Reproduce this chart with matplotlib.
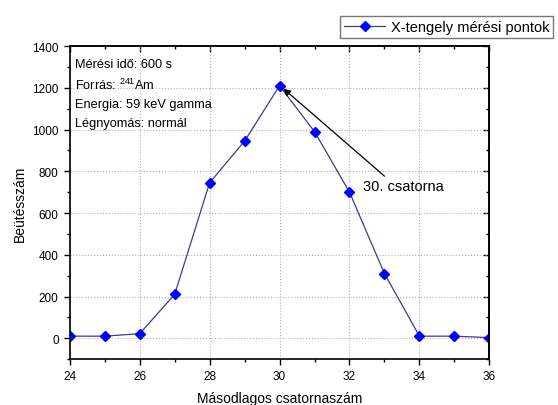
import matplotlib
matplotlib.use('Agg')
import matplotlib.pyplot as plt
from matplotlib.ticker import MultipleLocator

plt.rcParams['font.family'] = ['Liberation Sans', 'DejaVu Sans']
plt.rcParams['mathtext.fontset'] = 'custom'
plt.rcParams['mathtext.rm'] = 'Liberation Sans'

# measured counts per secondary channel
channels = [24, 25, 26, 27, 28, 29, 30, 31, 32, 33, 34, 35, 36]
counts = [10, 10, 22, 210, 745, 945, 1210, 990, 700, 310, 10, 10, 3]

info_lines = ['Mérési idő: 600 s', 'Forrás: $^{241}$Am',
              'Energia: 59 keV gamma', 'Légnyomás: normál']

fig = plt.figure(figsize=(5.58, 4.06), dpi=100)
ax = fig.add_axes([0.125, 0.113, 0.752, 0.771])

ax.plot(channels, counts, color='#3a3a9a', linewidth=0.9,
        marker='D', markersize=4.8, markerfacecolor='#0000ff',
        markeredgecolor='#0000ff', label='X-tengely mérési pontok')

ax.set_xlim(24, 36)
ax.set_ylim(-100, 1400)
ax.xaxis.set_major_locator(MultipleLocator(2))
ax.xaxis.set_minor_locator(MultipleLocator(1))
ax.yaxis.set_major_locator(MultipleLocator(200))
ax.yaxis.set_minor_locator(MultipleLocator(100))

# Origin-style ticks: outward on left/bottom, inward on top/right
ax.tick_params(which='both', direction='out', labelsize=8.5, width=1)
ax.tick_params(which='major', length=4.5)
ax.tick_params(which='minor', length=2.5)
ax2 = ax.secondary_xaxis('top')
ax2.xaxis.set_major_locator(MultipleLocator(2))
ax2.xaxis.set_minor_locator(MultipleLocator(1))
ax2.tick_params(which='both', direction='in', labeltop=False, width=1)
ax2.tick_params(which='major', length=4.5)
ax2.tick_params(which='minor', length=2.5)
ay2 = ax.secondary_yaxis('right')
ay2.yaxis.set_major_locator(MultipleLocator(200))
ay2.yaxis.set_minor_locator(MultipleLocator(100))
ay2.tick_params(which='both', direction='in', labelright=False, width=1)
ay2.tick_params(which='major', length=4.5)
ay2.tick_params(which='minor', length=2.5)
for s in list(ax.spines.values()) + [ax2.spines['top'], ay2.spines['right']]:
    s.set_linewidth(1.2)

ax.grid(True, which='major', color='#b0b0b0', linestyle=':', linewidth=0.8)

ax.set_xlabel('Másodlagos csatornaszám', fontsize=10, labelpad=6)
ax.set_ylabel('Beütésszám', fontsize=10, labelpad=4)

for i, line in enumerate(info_lines):
    ax.text(0.013, 0.942 - i * 0.063, line, transform=ax.transAxes,
            fontsize=9.2, va='center', ha='left')

ax.annotate('30. csatorna', xy=(30.05, 1205), xytext=(32.4, 730),
            fontsize=10.5, va='center', ha='left',
            arrowprops=dict(arrowstyle='-|>', color='black', lw=0.9,
                            shrinkA=0, shrinkB=2,
                            relpos=(0.3, 1.0)))

fig.legend(loc='upper right', bbox_to_anchor=(1.004, 0.975), fontsize=10.5,
           frameon=True, fancybox=False, edgecolor='#555555',
           borderpad=0.25, handlelength=2.8, handletextpad=0.4)

fig.savefig('out.png', dpi=100)
